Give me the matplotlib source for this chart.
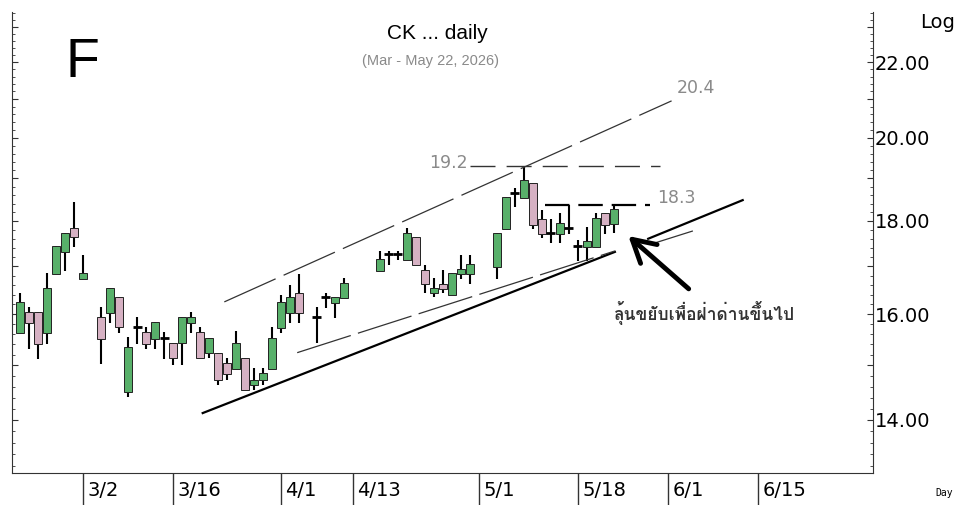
import matplotlib.pyplot as plt
import matplotlib.font_manager as fm
from matplotlib.ft2font import FT2Font
from matplotlib.ticker import FixedLocator, FuncFormatter, MultipleLocator
import matplotlib.transforms as mtransforms
import numpy as np

# daily prices, one slot per weekday (nan = market holiday)
days = ['2/19', '2/20', '2/23', '2/24', '2/25', '2/26', '2/27', '3/2', '3/3', '3/4',
        '3/5', '3/6', '3/9', '3/10', '3/11', '3/12', '3/13', '3/16', '3/17', '3/18',
        '3/19', '3/20', '3/23', '3/24', '3/25', '3/26', '3/27', '3/30', '3/31', '4/1',
        '4/2', '4/3', '4/6', '4/7', '4/8', '4/9', '4/10', '4/13', '4/14', '4/15',
        '4/16', '4/17', '4/20', '4/21', '4/22', '4/23', '4/24', '4/27', '4/28', '4/29',
        '4/30', '5/1', '5/4', '5/5', '5/6', '5/7', '5/8', '5/11', '5/12', '5/13',
        '5/14', '5/15', '5/18', '5/19', '5/20', '5/21', '5/22']
nan = np.nan
opens = [15.63, 16.05, 16.05, 15.63, 16.83, 17.31, 17.84, 16.73, nan, 15.94,
         16.03, 16.35, 14.50, 15.74, 15.65, 15.51, 15.53, 15.43, 15.43, 15.82,
         15.65, 15.24, 15.24, 15.04, 14.93, 15.14, 14.63, 14.73, 14.93, 15.72,
         16.03, 16.43, nan, 15.94, 16.35, 16.23, 16.33, nan, nan, nan,
         16.90, 17.26, 17.26, 17.13, 17.64, 16.92, 16.43, 16.62, 16.39, 16.83,
         16.83, nan, nan, 16.98, 17.82, 18.65, 18.53, 18.88, 18.05, 17.73,
         17.71, 17.84, 17.44, 17.42, 17.42, 18.18, 17.93]
highs = [16.43, 16.15, 16.05, 16.86, 17.44, 17.73, 18.44, 17.24, nan, 16.15,
         16.54, 16.35, 15.55, 15.94, 15.74, 15.84, 15.65, 15.43, 15.94, 16.05,
         15.74, 15.53, 15.24, 15.14, 15.67, 15.14, 14.95, 14.95, 15.74, 16.39,
         16.60, 16.83, nan, 16.15, 16.43, 16.35, 16.75, nan, nan, nan,
         17.33, 17.33, 17.33, 17.84, 17.64, 17.03, 16.75, 16.92, 16.86, 17.24,
         17.24, nan, nan, 17.73, 18.55, 18.77, 19.27, 18.88, 18.25, 18.05,
         18.18, 18.37, 17.57, 17.86, 18.18, 18.18, 18.39]
lows = [15.63, 15.31, 15.12, 15.41, 16.83, 16.90, 17.42, 16.73, nan, 15.03,
        15.82, 15.63, 14.41, 15.41, 15.31, 15.31, 15.12, 15.01, 15.01, 15.63,
        15.14, 15.14, 14.63, 14.73, 14.93, 14.54, 14.54, 14.63, 14.93, 15.63,
        15.82, 15.82, nan, 15.43, 16.13, 15.92, 16.33, nan, nan, nan,
        16.90, 17.03, 17.13, 17.13, 17.03, 16.43, 16.35, 16.43, 16.39, 16.73,
        16.62, nan, nan, 16.73, 17.82, 18.32, 18.53, 17.82, 17.62, 17.51,
        17.51, 17.71, 17.11, 17.11, 17.42, 17.71, 17.73]
closes = [16.25, 15.82, 15.41, 16.54, 17.44, 17.73, 17.64, 16.86, nan, 15.51,
          16.54, 15.74, 15.35, 15.74, 15.41, 15.84, 15.53, 15.14, 15.94, 15.94,
          15.14, 15.53, 14.73, 14.84, 15.43, 14.54, 14.73, 14.86, 15.53, 16.25,
          16.35, 16.03, nan, 15.94, 16.35, 16.35, 16.64, nan, nan, nan,
          17.16, 17.26, 17.26, 17.73, 17.03, 16.62, 16.54, 16.52, 16.86, 16.94,
          17.05, nan, nan, 17.73, 18.55, 18.65, 18.96, 17.91, 17.71, 17.73,
          17.95, 17.84, 17.44, 17.55, 18.07, 17.91, 18.27]

# x axis separators (slot index -> label)
sep_slots = [7, 17, 29, 37, 51, 62, 72, 82]
sep_labels = ['3/2', '3/16', '4/1', '4/13', '5/1', '5/18', '6/1', '6/15']

# hand drawn lines (slot, price)
upper_x = [22.7, 72.4]
upper_y = [16.25, 20.95]
res192_x = [50.0, 71.1]
res192_y = [19.29, 19.29]
res183_x = [58.3, 70.0]
res183_y = [18.37, 18.37]
support_x1 = [20.3, 66.1]
support_y1 = [14.12, 17.31]
support_x2 = [69.8, 80.3]
support_y2 = [17.60, 18.48]
mid_x1 = [30.8, 66.1]
mid_y1 = [15.24, 17.33]
mid_x2 = [70.6, 74.7]
mid_y2 = [17.51, 17.77]
arrow_tail = (74.3, 16.52)
arrow_head = (67.6, 17.66)

green = '#58b06a'
pink = '#d6b1c3'


def thai_font():
    for f in sorted(fm.findSystemFonts()):
        try:
            if 0x0E25 in FT2Font(f).get_charmap():
                return f
        except Exception:
            pass
    return None


fig = plt.figure(figsize=(9.56, 5.05), dpi=100)
ax = fig.add_axes([12 / 956, 32 / 505, 861 / 956, 461 / 505])
ax.set_yscale('log')
ax.set_xlim(-0.89, 94.78)
ax.set_ylim(13.09, 23.44)

x = np.arange(len(days))
for i in x:
    o, h, l, c = opens[i], highs[i], lows[i], closes[i]
    if np.isnan(o):
        continue
    ax.vlines(i, l, h, color='black', lw=1.5, zorder=2)
    if o == c:
        ax.hlines(c, i - 0.5, i + 0.5, color='black', lw=2, zorder=3)
    else:
        ax.bar(i, abs(c - o), bottom=min(o, c), width=0.85,
               color=green if c > o else pink, edgecolor='#222222', lw=0.7, zorder=3)

# trend lines
ax.plot(upper_x, upper_y, color='#333333', lw=0.9, dashes=(45, 7))
ax.plot(res192_x, res192_y, color='#333333', lw=1.0, dashes=(18, 8))
ax.plot(res183_x, res183_y, color='black', lw=1.6, dashes=(11, 4))
ax.plot(support_x1, support_y1, color='black', lw=1.6)
ax.plot(support_x2, support_y2, color='black', lw=1.6)
ax.plot(mid_x1, mid_y1, color='#333333', lw=0.9, dashes=(45, 6))
ax.plot(mid_x2, mid_y2, color='#333333', lw=0.9)
ax.annotate('', xy=arrow_head, xytext=arrow_tail,
            arrowprops=dict(arrowstyle='->,head_length=0.8,head_width=0.45',
                            lw=3.5, color='black', mutation_scale=20,
                            shrinkA=0, shrinkB=0))

ax.text(73.0, 21.29, '20.4', color='#8a8a8a', fontsize=12.5, va='center')
ax.text(45.5, 19.38, '19.2', color='#8a8a8a', fontsize=12.5, va='center')
ax.text(70.8, 18.52, '18.3', color='#8a8a8a', fontsize=12.5, va='center')

tf = thai_font()
tprops = fm.FontProperties(fname=tf, size=12.5) if tf else fm.FontProperties(size=12.5)
ax.text(66.0, 16.02, 'ลุ้นขยับเพื่อฝ่าด่านขึ้นไป', fontproperties=tprops,
        color='#333333', va='center')

# spines and ticks
ax.spines['top'].set_visible(False)
for s in ['left', 'right', 'bottom']:
    ax.spines[s].set_color('#333333')
ax.yaxis.set_major_locator(FixedLocator(range(13, 24)))
ax.yaxis.set_minor_locator(MultipleLocator(0.2))
ax.yaxis.set_major_formatter(FuncFormatter(lambda v, p: '%.2f' % v if v % 2 == 0 else ''))
ax.yaxis.set_minor_formatter(FuncFormatter(lambda v, p: ''))
ax.tick_params(axis='y', which='both', direction='in', left=True, right=True,
               labelleft=False, labelright=True, color='#333333')
ax.tick_params(axis='y', which='major', length=4, labelsize=14, pad=1)
ax.tick_params(axis='y', which='minor', length=2.5)

ax.set_xticks(sep_slots)
ax.set_xticklabels([])
ax.tick_params(axis='x', direction='out', length=24, width=1, color='#333333')
trans = mtransforms.blended_transform_factory(ax.transData, ax.transAxes)
for s, lab in zip(sep_slots, sep_labels):
    ax.text(s + 0.5, -0.037, lab, transform=trans, fontsize=14,
            family=['Liberation Sans Narrow', 'DejaVu Sans'], va='center', ha='left')

fig.text(65 / 956, 1 - 63 / 505, 'F', fontsize=40, family='Liberation Sans', va='center')
fig.text(437 / 956, 1 - 33 / 505, 'CK ... daily', fontsize=15, family='Liberation Sans',
         ha='center', va='center')
fig.text(430 / 956, 1 - 61 / 505, '(Mar - May 22, 2026)', fontsize=10.5, color='#8a8a8a',
         family='Liberation Sans', ha='center', va='center')
fig.text(920 / 956, 1 - 22 / 505, 'Log', fontsize=14, va='center')
fig.text(935 / 956, 1 - 493 / 505, 'Day', fontsize=7, family='monospace', va='center')

fig.savefig('out.png', dpi=100)
